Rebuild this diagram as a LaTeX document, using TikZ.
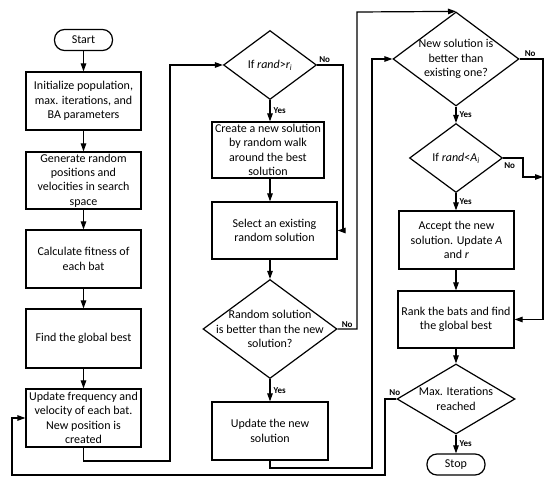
\documentclass[tikz,border=0pt]{standalone}
\usepackage{fontspec}
\setmainfont{Carlito}
\usetikzlibrary{arrows.meta,shapes.geometric}
\begin{document}
\begin{tikzpicture}[x=1pt,y=-1pt,
  font=\fontsize{12}{14.3}\selectfont,
  box/.style={draw, line width=1.2pt, rectangle, align=center, inner sep=1pt},
  dia/.style={draw, line width=1.2pt, diamond, inner sep=0pt},
  term/.style={draw, line width=1.2pt, rectangle, rounded corners=10pt, inner sep=1pt, minimum width=58pt, minimum height=21pt},
  conn/.style={line width=1.2pt, -{Triangle[length=8pt,width=5.5pt]}},
  lbl/.style={font=\bfseries\fontsize{9}{10}\selectfont, inner sep=1pt}]
\fill[white] (0,0) rectangle (550,486);
\useasboundingbox (0,0) rectangle (550,486);

% column 1
\node[term] (start) at (83.5,40) {Start};
\node[box, minimum width=115pt, minimum height=58pt] (init) at (83.5,101) {Initialize population,\\max. iterations, and\\BA parameters};
\node[box, minimum width=115pt, minimum height=57pt] (gen) at (83.5,180.5) {Generate random\\positions and\\velocities in search\\space};
\node[box, minimum width=115pt, minimum height=58pt] (calc) at (83.5,259) {Calculate fitness of\\each bat};
\node[box, minimum width=115pt, minimum height=59pt] (find) at (83.5,338.5) {Find the global best};
\node[box, minimum width=115pt, minimum height=58pt] (upd) at (83.5,418) {Update frequency and\\velocity of each bat.\\New position is\\created};

% column 2
\node[dia, minimum width=93pt, minimum height=69pt] (d1) at (270,65) {};
\node at (d1) {If \textit{rand}>\textit{r\textsubscript{i}}};
\node[box, minimum width=112pt, minimum height=56pt] (create) at (268,150) {Create a new solution\\by random walk\\around the best\\solution};
\node[box, minimum width=125pt, minimum height=57pt] (select) at (274.5,230.5) {Select an existing\\random solution};
\node[dia, minimum width=134pt, minimum height=99pt] (d2) at (270,329) {};
\node[align=center] at (d2) {Random solution\\is better than the new\\solution?};
\node[box, minimum width=116pt, minimum height=58pt] (updnew) at (270,431) {Update the new\\solution};

% column 3
\node[dia, minimum width=126pt, minimum height=94pt] (d3) at (456,59) {};
\node[align=center] at (d3) {New solution is\\better than\\existing one?};
\node[dia, minimum width=93pt, minimum height=69pt] (d4) at (456,158) {};
\node at (d4) {If \textit{rand}<\textit{A\textsubscript{i}}};
\node[box, minimum width=115pt, minimum height=58pt] (accept) at (456.5,240) {Accept the new\\solution. Update \textit{A}\\and \textit{r}};
\node[box, minimum width=116pt, minimum height=57pt] (rank) at (456,319.5) {Rank the bats and find\\the global best};
\node[dia, minimum width=118pt, minimum height=70pt] (d5) at (456,399) {};
\node[align=center] at (d5) {Max. Iterations\\reached};
\node[term] (stop) at (456,464.5) {Stop};

% helper coordinates
\coordinate (xa) at (170,0);
\coordinate (xb) at (343,0);
\coordinate (xc) at (357,0);
\coordinate (xd) at (372,0);
\coordinate (xe) at (543,0);
\coordinate (xf) at (523,0);
\coordinate (xg) at (385,0);
\coordinate (xh) at (12,0);
\coordinate (ya) at (0,461);
\coordinate (yb) at (0,12);
\coordinate (yc) at (0,468);
\coordinate (yd) at (0,177);
\coordinate (ye) at (0,475);

% column 1 arrows
\draw[conn] (start) -- (init);
\draw[conn] (init) -- (gen);
\draw[conn] (gen) -- (calc);
\draw[conn] (calc) -- (find);
\draw[conn] (find) -- (upd);
\draw[conn] (upd.south) -- (upd.south |- ya) -- (xa |- ya) -- (xa |- d1.west) -- (d1.west);

% column 2 arrows
\draw[conn] (d1.south) -- node[lbl, anchor=west, xshift=2pt]{Yes} (d1.south |- create.north);
\draw[conn] (d1.east) -- (xb |- d1.east) -- (xb |- select.east) -- (select.east);
\node[lbl, anchor=south west, xshift=1pt, yshift=1pt] at (d1.east) {No};
\draw[conn] (d1.south |- create.south) -- (d1.south |- select.north);
\draw[conn] (d1.south |- select.south) -- (d2.north);
\draw[conn] (d2.south) -- node[lbl, anchor=west, xshift=2pt]{Yes} (updnew.north);
\draw[conn] (d2.east) -- (xc |- d2.east) -- (xc |- yb) -- (d3.north);
\node[lbl, anchor=south west, xshift=3pt, yshift=0pt] at (d2.east) {No};
\draw[conn] (updnew.south) -- (updnew.south |- yc) -- (xd |- yc) -- (xd |- d3.west) -- (d3.west);

% column 3 arrows
\draw[conn] (d3.south) -- node[lbl, anchor=west, xshift=2pt]{Yes} (d4.north);
\draw[conn] (d3.east) -- (xe |- d3.east) -- (xe |- rank.east) -- (rank.east);
\node[lbl, anchor=south west, xshift=4pt, yshift=1pt] at (d3.east) {No};
\draw[conn] (d4.south) -- node[lbl, anchor=west, xshift=2pt]{Yes} (d4.south |- accept.north);
\draw[conn] (d4.east) -- (xf |- d4.east) -- (xf |- yd) -- (xe |- yd);
\node[lbl, anchor=north west, xshift=0pt, yshift=-3pt] at (d4.east) {No};
\draw[conn] (d4.south |- accept.south) -- (d4.south |- rank.north);
\draw[conn] (rank.south) -- (d5.north);
\draw[conn] (d5.south) -- node[lbl, anchor=west, xshift=2pt]{Yes} (stop.north);
\draw[conn] (d5.west) -- (xg |- d5.west) -- (xg |- ye) -- (xh |- ye) -- (xh |- upd.west) -- (upd.west);
\node[lbl, anchor=south east, xshift=5pt, yshift=2pt] at (d5.west) {No};
\end{tikzpicture}
\end{document}
